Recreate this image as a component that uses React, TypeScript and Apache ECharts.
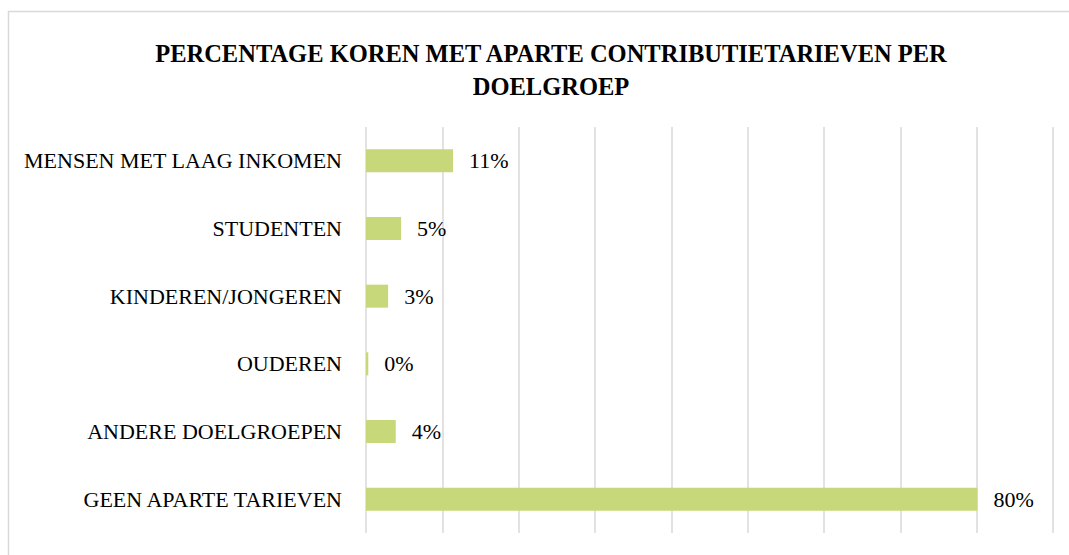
import React, { useEffect, useRef } from "react";
import * as echarts from "echarts";

const categories = [
  "MENSEN MET LAAG INKOMEN",
  "STUDENTEN",
  "KINDEREN/JONGEREN",
  "OUDEREN",
  "ANDERE DOELGROEPEN",
  "GEEN APARTE TARIEVEN",
];
const values = [11.4, 4.6, 2.9, 0.3, 3.9, 80.1];
const titleText = "PERCENTAGE KOREN MET APARTE CONTRIBUTIETARIEVEN PER\nDOELGROEP";

export default function App() {
  const ref = useRef<HTMLDivElement>(null);
  useEffect(() => {
    if (!ref.current) return;
    const chart = echarts.init(ref.current, null, { renderer: "svg" });
    const font = "'Liberation Serif', 'DejaVu Serif', serif";
    chart.setOption({
      animation: false,
      backgroundColor: "#ffffff",
      graphic: [
        {
          type: "rect",
          shape: { x: 8.5, y: 11.5, width: 1080, height: 560 },
          style: { fill: "none", stroke: "#d9d9d9", lineWidth: 1.5 },
          silent: true,
        },
      ],
      title: {
        text: titleText,
        left: 546,
        top: 32,
        textAlign: "center",
        textStyle: {
          fontFamily: font,
          fontWeight: "bold",
          fontSize: 24.5,
          lineHeight: 33,
          color: "#000000",
        },
      },
      grid: { left: 366, right: 16, top: 127, bottom: 22, containLabel: false },
      xAxis: {
        type: "value",
        min: 0,
        max: 90,
        interval: 10,
        axisLabel: { show: false },
        axisLine: { show: false },
        axisTick: { show: false },
        splitLine: { show: true, lineStyle: { color: "#d9d9d9", width: 1.5 } },
      },
      yAxis: {
        type: "category",
        data: categories,
        inverse: true,
        axisLine: { show: false },
        axisTick: { show: false },
        axisLabel: {
          margin: 24,
          fontFamily: font,
          fontSize: 22,
          color: "#000000",
        },
      },
      series: [
        {
          type: "bar",
          data: values,
          barWidth: 23,
          itemStyle: { color: "#c7d87a" },
          label: {
            show: true,
            position: "right",
            distance: 16,
            fontFamily: font,
            fontSize: 22,
            color: "#000000",
            formatter: (p: any) => Math.round(p.value) + "%",
          },
        },
      ],
    });
    return () => chart.dispose();
  }, []);
  return (
    <div
      ref={ref}
      style={{ position: "fixed", left: 0, top: 0, width: 1069, height: 555 }}
    />
  );
}
